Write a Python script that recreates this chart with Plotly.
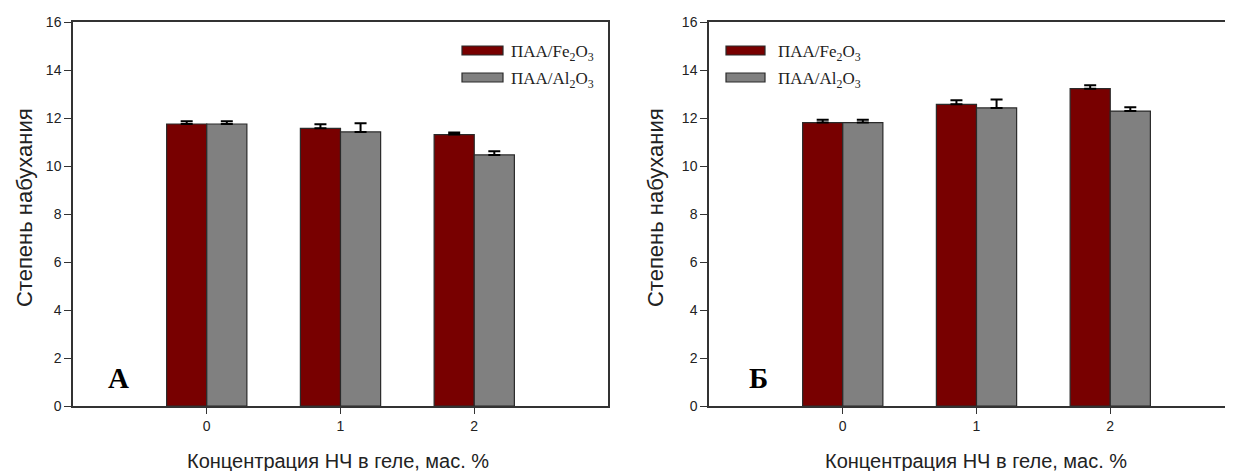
import plotly.graph_objects as go

# ---- data ----
categories = [0, 1, 2]
tick_labels = ["0", "1", "2"]
y_ticks = [0, 2, 4, 6, 8, 10, 12, 14, 16]

a_fe = [11.75, 11.57, 11.31]
a_fe_err = [0.11, 0.17, 0.09]
a_al = [11.75, 11.42, 10.46]
a_al_err = [0.11, 0.36, 0.15]

b_fe = [11.81, 12.57, 13.22]
b_fe_err = [0.12, 0.17, 0.14]
b_al = [11.81, 12.42, 12.29]
b_al_err = [0.12, 0.35, 0.16]

series_names = ["ПАА/Fe<sub>2</sub>O<sub>3</sub>", "ПАА/Al<sub>2</sub>O<sub>3</sub>"]
series_colors = ["#780000", "#808080"]
panel_letters = ["А", "Б"]
x_title = "Концентрация НЧ в геле, мас. %"
y_title = "Степень набухания"

# page body has an 8px margin; the figure is sized to fill the rest of the window
OFF = 8
W, H = 1233 - OFF, 471 - OFF
PLOT_TOP, PLOT_BOT = 22, 406          # positions in window pixels
T = PLOT_TOP - OFF
B = H - (PLOT_BOT - OFF)
PH = H - T - B


def px_x(x):
    return (x - OFF) / W


def px_y(y):
    return (PLOT_BOT - y) / PH


fig = go.Figure()

panels = [
    ("x", "y", [a_fe, a_al], [a_fe_err, a_al_err]),
    ("x2", "y2", [b_fe, b_al], [b_fe_err, b_al_err]),
]
for xa, ya, vals, errs in panels:
    for i in range(2):
        fig.add_trace(go.Bar(
            x=categories, y=vals[i], name=series_names[i],
            xaxis=xa, yaxis=ya, offsetgroup=str(i),
            marker=dict(color=series_colors[i], line=dict(color="#2a2a2a", width=1.2)),
            error_y=dict(type="data", array=errs[i], arrayminus=[0] * len(errs[i]),
                         symmetric=False, color="black", thickness=2, width=6),
            showlegend=False,
        ))

axis_common = dict(showline=True, linecolor="#333333", linewidth=1.5, showgrid=False,
                   zeroline=False, ticks="outside", tickcolor="#333333", tickwidth=1.2,
                   tickfont=dict(family="Liberation Sans", size=14, color="#222"),
                   fixedrange=True)

A_X0, A_X1 = 73, 608
B_X0 = 709
cat_px = (A_X1 - A_X0) / 4.0
b_right = -1 + ((1233 - B_X0) / cat_px)

fig.update_layout(
    width=W, height=H,
    margin=dict(l=0, r=0, t=T, b=B),
    paper_bgcolor="white", plot_bgcolor="white",
    barmode="group", bargap=0.4, bargroupgap=0,
    xaxis=dict(domain=[px_x(A_X0), px_x(A_X1)], range=[-1, 3], tickvals=categories, ticktext=tick_labels,
               mirror=True, ticklen=6, anchor="y", **axis_common),
    yaxis=dict(domain=[0, 1], range=[0, 16], tickvals=y_ticks, mirror=True, ticklen=7,
               anchor="x", **axis_common),
    xaxis2=dict(domain=[px_x(B_X0), 1.0], range=[-1, b_right], tickvals=categories, ticktext=tick_labels,
                mirror=True, ticklen=6, anchor="y2", **axis_common),
    yaxis2=dict(domain=[0, 1], range=[0, 16], tickvals=y_ticks, mirror=False, ticklen=7,
                anchor="x2", **axis_common),
)

shapes = []
annotations = []
xtitle_font = dict(family="Liberation Sans", size=20, color="#222")
ytitle_font = dict(family="Liberation Sans", size=22, color="#222")
legend_font = dict(family="Liberation Serif", size=17, color="#222")

panel_geo = [
    # legend marker x0, x1, text x, letter x, x-title center, y-title x
    (462, 503, 509, 118, 338, 24),
    (726, 765, 776, 758, 976, 655),
]
row_y = [(46, 55), (73, 82)]
for p, (mx0, mx1, tx, lx, xt, yt) in enumerate(panel_geo):
    for i in range(2):
        y0, y1 = row_y[i]
        shapes.append(dict(type="rect", xref="paper", yref="paper",
                           x0=px_x(mx0), x1=px_x(mx1), y0=px_y(y1), y1=px_y(y0),
                           fillcolor=series_colors[i], line=dict(color="#2a2a2a", width=1.2)))
        annotations.append(dict(xref="paper", yref="paper", x=px_x(tx), y=px_y((y0 + y1) / 2 + 2),
                                xanchor="left", yanchor="middle", showarrow=False,
                                text=series_names[i], font=legend_font))
    annotations.append(dict(xref="paper", yref="paper", x=px_x(lx), y=px_y(378),
                            xanchor="center", yanchor="middle", showarrow=False,
                            text="<b>" + panel_letters[p] + "</b>",
                            font=dict(family="Liberation Serif", size=29, color="black")))
    annotations.append(dict(xref="paper", yref="paper", x=px_x(xt), y=px_y(461),
                            xanchor="center", yanchor="middle", showarrow=False,
                            text=x_title, font=xtitle_font))
    annotations.append(dict(xref="paper", yref="paper", x=px_x(yt), y=px_y(208),
                            xanchor="center", yanchor="middle", showarrow=False, textangle=-90,
                            text=y_title, font=ytitle_font))

fig.update_layout(shapes=shapes, annotations=annotations)

fig.write_html("out.html")
